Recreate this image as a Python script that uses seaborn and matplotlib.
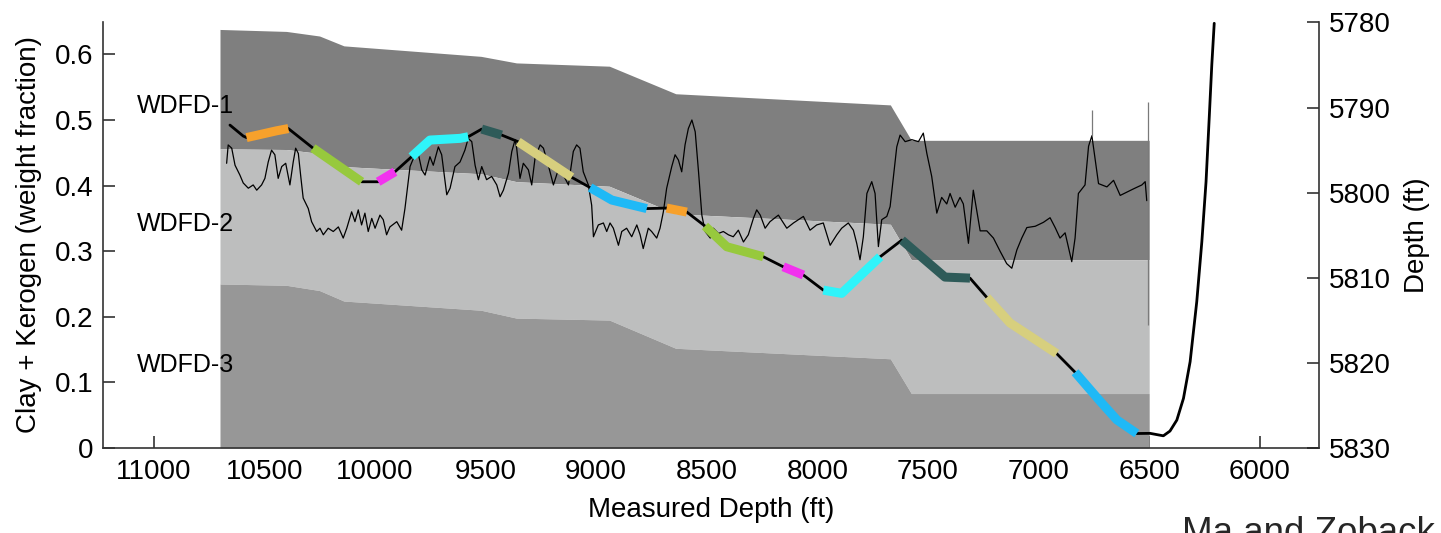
import numpy as np
import pandas as pd
import matplotlib
matplotlib.use("Agg")
import matplotlib.pyplot as plt
import seaborn as sns

# ---------------- data ----------------
# facies bands (measured depth, boundaries in weight fraction)
band_md = [10700, 10400, 10250, 10140, 9520, 9360, 8940, 8640, 7670, 7575, 6500]
band_top = [0.638, 0.635, 0.628, 0.613, 0.597, 0.587, 0.582, 0.540, 0.523, 0.469, 0.469]
band_b1 = [0.456, 0.455, 0.449, 0.429, 0.418, 0.406, 0.399, 0.357, 0.341, 0.287, 0.287]
band_b2 = [0.250, 0.248, 0.240, 0.224, 0.210, 0.198, 0.195, 0.152, 0.136, 0.083, 0.083]
band_names = ["WDFD-1", "WDFD-2", "WDFD-3"]
band_label_y = [0.521, 0.341, 0.127]

# clay + kerogen log
log_md = [10670, 10663, 10647, 10632, 10610, 10595, 10572, 10550, 10534, 10512, 10497, 10482,
          10467, 10452, 10437, 10421, 10403, 10384, 10369, 10358, 10346, 10334, 10324, 10301,
          10286, 10263, 10248, 10233, 10211, 10188, 10165, 10143, 10127, 10105, 10090, 10075,
          10060, 10045, 10030, 10014, 9999, 9977, 9962, 9947, 9932, 9901, 9879, 9864, 9849,
          9841, 9819, 9804, 9788, 9773, 9751, 9736, 9713, 9698, 9675, 9660, 9638, 9615, 9593,
          9578, 9562, 9547, 9532, 9517, 9495, 9472, 9449, 9434, 9419, 9396, 9381, 9366, 9359,
          9344, 9329, 9306, 9291, 9276, 9253, 9238, 9216, 9193, 9171, 9148, 9125, 9103, 9088,
          9073, 9058, 9035, 9020, 9012, 8990, 8967, 8952, 8937, 8922, 8899, 8884, 8862, 8839,
          8816, 8801, 8787, 8764, 8749, 8726, 8711, 8696, 8681, 8658, 8643, 8628, 8613, 8598,
          8583, 8567, 8552, 8537, 8522, 8507, 8484, 8470, 8447, 8425, 8402, 8380, 8357, 8334,
          8312, 8289, 8274, 8258, 8236, 8214, 8176, 8138, 8108, 8063, 8033, 8003, 7973, 7942,
          7912, 7890, 7860, 7837, 7822, 7807, 7792, 7776, 7754, 7739, 7724, 7709, 7686, 7671,
          7656, 7641, 7626, 7603, 7573, 7543, 7521, 7505, 7483, 7460, 7438, 7415, 7400, 7377,
          7355, 7340, 7317, 7295, 7264, 7234, 7204, 7174, 7144, 7121, 7098, 7076, 7053, 7015,
          6978, 6948, 6925, 6903, 6880, 6850, 6835, 6820, 6790, 6774, 6759, 6744, 6729, 6691,
          6661, 6631, 6601, 6571, 6533, 6518, 6511]
log_val = [0.434, 0.462, 0.457, 0.431, 0.416, 0.404, 0.396, 0.401, 0.393, 0.401, 0.411, 0.436,
           0.454, 0.447, 0.411, 0.429, 0.434, 0.401, 0.436, 0.457, 0.449, 0.411, 0.381, 0.365,
           0.345, 0.330, 0.335, 0.325, 0.335, 0.330, 0.337, 0.320, 0.335, 0.360, 0.345, 0.363,
           0.340, 0.358, 0.330, 0.350, 0.335, 0.355, 0.348, 0.325, 0.337, 0.345, 0.332, 0.365, 0.406,
           0.429, 0.447, 0.449, 0.424, 0.416, 0.444, 0.431, 0.459, 0.447, 0.386, 0.396, 0.429, 0.436, 0.454,
           0.472, 0.467, 0.431, 0.409, 0.429, 0.409, 0.414, 0.401, 0.383, 0.393, 0.419, 0.452, 0.470, 0.457,
           0.411, 0.434, 0.424, 0.401, 0.442, 0.462, 0.457, 0.431, 0.401, 0.424, 0.416, 0.401, 0.452, 0.462,
           0.457, 0.421, 0.401, 0.370, 0.322, 0.340, 0.343, 0.330, 0.343, 0.335, 0.309, 0.330, 0.335, 0.322,
           0.340, 0.325, 0.304, 0.335, 0.330, 0.320, 0.335, 0.360, 0.396, 0.429, 0.447, 0.439, 0.421, 0.462,
           0.487, 0.500, 0.482, 0.421, 0.355, 0.330, 0.320, 0.335, 0.327, 0.330, 0.325, 0.322, 0.332, 0.314,
           0.325, 0.350, 0.363, 0.355, 0.335, 0.345, 0.355, 0.335, 0.343, 0.353, 0.332, 0.340, 0.343, 0.309,
           0.325, 0.335, 0.343, 0.332, 0.312, 0.287, 0.322, 0.388, 0.406, 0.388, 0.307, 0.348, 0.353, 0.368,
           0.414, 0.459, 0.477, 0.467, 0.470, 0.467, 0.480, 0.449, 0.414, 0.358, 0.382, 0.372, 0.388, 0.367,
           0.382, 0.372, 0.312, 0.393, 0.331, 0.331, 0.320, 0.300, 0.281, 0.274, 0.302, 0.320, 0.336, 0.338,
           0.344, 0.351, 0.336, 0.320, 0.328, 0.284, 0.320, 0.388, 0.401, 0.460, 0.476, 0.439, 0.403, 0.398,
           0.408, 0.385, 0.390, 0.395, 0.401, 0.406, 0.377]
# thin grey spikes in the log (md, low, high)
spike_md = [6757, 6505]
spike_lo = [0.476, 0.188]
spike_hi = [0.515, 0.528]

# well trajectory (measured depth vs true vertical depth)
traj_md = [10655, 10595, 10580, 10444, 10391, 10280, 10060, 9985, 9909, 9834, 9751, 9615, 9578,
           9517, 9427, 9352, 9110, 9027, 8929, 8771, 8681, 8590, 8508, 8409, 8244, 8154, 8063,
           7973, 7890, 7716, 7618, 7423, 7310, 7234, 7129, 6918, 6835, 6722, 6646, 6556, 6496,
           6436, 6406, 6375, 6345, 6315, 6285, 6262, 6243, 6228, 6217, 6206]
traj_tvd = [5792.06, 5793.35, 5793.53, 5792.73, 5792.47, 5794.76, 5798.72, 5798.72, 5797.54,
            5795.78, 5793.82, 5793.62, 5793.43, 5792.53, 5793.23, 5794.02, 5798.20, 5799.40,
            5800.87, 5801.87, 5801.81, 5802.28, 5803.92, 5806.36, 5807.53, 5808.71, 5809.68,
            5811.45, 5811.83, 5807.53, 5805.57, 5809.92, 5810.04, 5812.31, 5815.31, 5818.91,
            5821.10, 5824.50, 5826.70, 5828.30, 5828.28, 5828.57, 5828.01, 5826.72, 5824.17,
            5819.87, 5812.82, 5805.77, 5798.72, 5790.88, 5785.00, 5780.10]
# frac stages: (first index, last index) into the trajectory, with stage colour
stage_start = [2, 5, 7, 9, 13, 15, 17, 20, 22, 25, 27, 30, 33, 36]
stage_end = [4, 6, 8, 12, 14, 16, 19, 21, 24, 26, 29, 32, 35, 39]
stage_colors = ["#f7a12c", "#97c93d", "#f232ee", "#2ff4fa", "#2e5b59", "#d7cf7e", "#1fb9f6",
                "#f7a12c", "#97c93d", "#f232ee", "#2ff4fa", "#2e5b59", "#d7cf7e", "#1fb9f6"]

x_ticks = [11000, 10500, 10000, 9500, 9000, 8500, 8000, 7500, 7000, 6500, 6000]
y_ticks = [0, 0.1, 0.2, 0.3, 0.4, 0.5, 0.6]
y_ticklabels = ["0", "0.1", "0.2", "0.3", "0.4", "0.5", "0.6"]
y2_ticks = [5780, 5790, 5800, 5810, 5820, 5830]

# ---------------- style ----------------
sns.set_style("ticks")
plt.rcParams["font.family"] = ["Liberation Sans", "DejaVu Sans"]

fig = plt.figure(figsize=(14.41, 5.33), dpi=100)
ax = fig.add_axes([0.0713, 0.1595, 0.8441, 0.800])

# bands
ax.fill_between(band_md, band_b1, band_top, color="#7f7f7f", lw=0, zorder=1)
ax.fill_between(band_md, band_b2, band_b1, color="#bdbebe", lw=0, zorder=1)
ax.fill_between(band_md, 0, band_b2, color="#979797", lw=0, zorder=1)

# log
log_df = pd.DataFrame({"md": log_md, "val": log_val})
sns.lineplot(data=log_df, x="md", y="val", ax=ax, color="black", lw=0.9,
             estimator=None, sort=False, zorder=3)
ax.vlines(spike_md, spike_lo, spike_hi, color="#7a7a7a", lw=0.9, zorder=3)

for name, yy in zip(band_names, band_label_y):
    ax.text(11077, yy, name, fontsize=18, ha="left", va="center", zorder=5, color="black")

ax.set_xlim(11230, 5732)
ax.set_ylim(0, 0.65)
ax.set_xticks(x_ticks)
ax.set_xticklabels([str(v) for v in x_ticks])
ax.set_yticks(y_ticks)
ax.set_yticklabels(y_ticklabels)
ax.set_xlabel("Measured Depth (ft)", fontsize=20, color="black")
ax.set_ylabel("Clay + Kerogen (weight fraction)", fontsize=20, color="black")
ax.xaxis.set_label_coords(0.5, -0.115)
ax.yaxis.set_label_coords(-0.050, 0.5)

ax.tick_params(axis="both", direction="in", length=8.5, width=1.1, labelsize=20,
               colors="#222222", labelcolor="black")
ax.tick_params(axis="y", pad=7)
ax.tick_params(axis="x", pad=8)
for s in ["top", "right"]:
    ax.spines[s].set_visible(False)
for s in ["left", "bottom"]:
    ax.spines[s].set_color("#333333")
    ax.spines[s].set_linewidth(1.2)

# trajectory on right axis
ax2 = ax.twinx()
traj_df = pd.DataFrame({"md": traj_md, "tvd": traj_tvd})
sns.lineplot(data=traj_df, x="md", y="tvd", ax=ax2, color="black", lw=2.0,
             estimator=None, sort=False, zorder=4)
for i0, i1, c in zip(stage_start, stage_end, stage_colors):
    seg = traj_df.iloc[i0:i1 + 1]
    sns.lineplot(data=seg, x="md", y="tvd", ax=ax2, color=c, lw=6.5,
                 estimator=None, sort=False, zorder=5, solid_capstyle="butt")
ax2.set_ylim(5830, 5779.9)
ax2.set_xlim(11230, 5732)
ax2.set_yticks(y2_ticks)
ax2.set_yticklabels([str(v) for v in y2_ticks])
ax2.set_ylabel("Depth (ft)", fontsize=20, color="black")
ax2.yaxis.set_label_coords(1.070, 0.5)
ax2.tick_params(axis="y", direction="in", length=8.5, width=1.1, labelsize=20, pad=7,
                colors="#222222", labelcolor="black")
for s in ["top", "left", "bottom"]:
    ax2.spines[s].set_visible(False)
ax2.spines["right"].set_color("#333333")
ax2.spines["right"].set_linewidth(1.2)
ax2.set_xlabel("")

# source credit, partly cut off at the bottom edge as in the original
fig.text(0.820, -0.019, "Ma and Zoback", fontsize=26.5, ha="left", va="baseline")

fig.savefig("out.png", dpi=100)
